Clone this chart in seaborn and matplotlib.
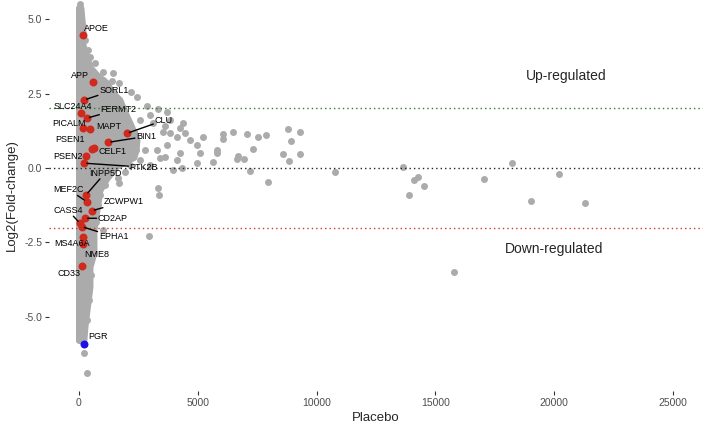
import numpy as np
import pandas as pd
import seaborn as sns
import matplotlib.pyplot as plt

# envelope of the dense grey cloud (y level, right extent in Placebo units)
cloud_y = [5.37, 4.63, 4.13, 3.72, 3.39, 3.12, 2.85, 2.55, 2.28, 1.95, 1.51, 1.20,
           0.94, 0.60, 0.37, 0.07, -0.34, -0.74, -1.41, -2.08, -2.85, -3.32,
           -3.99, -4.77, -5.34, -5.77]
cloud_xmax = [63, 147, 147, 316, 442, 737, 1157, 1368, 1705, 1873, 2125, 2300,
              2420, 2380, 2294, 1578, 1157, 863, 737, 610, 610, 442,
              442, 316, 231, 189]

# scattered grey genes outside the dense core
gray_x = [42, 181, 463, 673, 1024, 1444, 1374, 1010, 1680, 2200, 2428, 2848, 3338,
          3690, 3830, 4251, 2988, 3128, 4390, 3548, 4111, 4461, 4672, 5232, 5794,
          5794, 6073, 6048, 6495, 7083, 7547, 7856, 7310, 6705, 6636, 6944, 7197,
          7941, 8783, 9301, 8923, 8573, 8838, 9301, 10774, 13623, 14113, 14281,
          14520, 13876, 17033, 18237, 20189, 19024, 21283, 15783, 4953, 5093, 4251,
          4111, 4953, 5654, 4322, 3969, 3690, 3620, 3270, 2960, 3338, 3380, 1697,
          1024, 223, 350,
          2567, 3620, 3830, 2778, 3409, 2567, 2988, 2146, 1936, 1641, 1100, 900,
          800, 700, 610, 500, 420, 330, 380, 250]
gray_y = [5.50, 4.77, 3.73, 3.53, 3.23, 3.20, 2.93, 2.95, 2.85, 2.55, 2.37, 2.08, 1.98,
          1.89, 1.61, 1.33, 1.78, 1.50, 1.50, 1.22, 1.05, 1.16, 0.94, 1.05, 0.60,
          0.49, 1.14, 0.97, 1.20, 1.15, 1.03, 1.10, 0.64, 0.41, 0.31, 0.31, -0.09,
          -0.47, 1.31, 1.20, 0.90, 0.46, 0.22, 0.48, -0.12, 0.04, -0.40, -0.29,
          -0.59, -0.92, -0.36, 0.16, -0.20, -1.11, -1.19, -3.49, 0.77, 0.49, 0.49,
          0.27, 0.16, 0.21, -0.01, -0.07, 0.77, 0.38, 0.60, -2.30, -0.68, -0.91, -0.49,
          -2.08, -6.22, -6.87,
          1.61, 1.41, 1.17, 0.60, 0.34, 0.27, 0.10, 0.10, -0.13, -0.34, -0.57, -0.91,
          -1.24, -1.81, -2.75, -3.59, -4.43, -5.10, 3.96, 4.30]

# highlighted Alzheimer genes
genes = ["APOE", "APP", "SORL1", "SLC24A4", "FERMT2", "PICALM", "MAPT", "CLU",
         "BIN1", "PSEN1", "CELF1", "PSEN2", "PTK2B", "INPP5D", "MEF2C", "ZCWPW1",
         "CD2AP", "CASS4", "EPHA1", "MS4A6A", "NME8", "CD33"]
gene_x = [181, 602, 210, 72, 324, 181, 463, 2008, 1233, 535, 631, 295, 210, 295,
          324, 535, 252, 42, 113, 181, 181, 113]
gene_y = [4.46, 2.88, 2.28, 1.84, 1.67, 1.33, 1.30, 1.16, 0.86, 0.63, 0.66, 0.40,
          0.16, -0.91, -1.13, -1.44, -1.69, -1.86, -1.97, -2.31, -2.55, -3.29]

pgr_x = [223]
pgr_y = [-5.92]

# label offsets in pixels (dx, dy) and which ones get a connector
offsets = {"APOE": (13, 7), "APP": (-13, 7), "SORL1": (30, 10), "SLC24A4": (-8, 7),
           "FERMT2": (32, 9), "PICALM": (-14, 5), "MAPT": (19, 3), "CLU": (37, 13),
           "BIN1": (38, 6), "PSEN1": (-22, 10), "CELF1": (19, -3), "PSEN2": (-18, 0),
           "PTK2B": (60, -4), "INPP5D": (19, 22), "MEF2C": (-18, 12),
           "ZCWPW1": (32, 9), "CD2AP": (28, 0), "CASS4": (-12, 13),
           "EPHA1": (32, -10), "MS4A6A": (-11, -7), "NME8": (13, -11),
           "CD33": (-13, -8)}
connected = {"SORL1", "FERMT2", "CLU", "BIN1", "PTK2B", "INPP5D", "MEF2C",
             "ZCWPW1", "CD2AP", "CASS4", "EPHA1"}

grey = "#ABABAB"
red = "#CF2A1E"

sns.set_style("white")
plt.rcParams["font.family"] = ["Liberation Sans", "DejaVu Sans"]

fig = plt.figure(figsize=(7.06, 4.26), dpi=100)
ax = fig.add_axes([0.0698, 0.0822, 0.9255, 0.9178])

# dense core
ax.fill_betweenx(cloud_y, 0, cloud_xmax, color=grey, lw=5, joinstyle="round", zorder=1)
edge = pd.DataFrame({"x": cloud_xmax + [0] * len(cloud_y), "y": cloud_y + cloud_y})
sns.scatterplot(data=edge, x="x", y="y", color=grey, s=25, linewidth=0, ax=ax, zorder=2)

others = pd.DataFrame({"x": gray_x, "y": gray_y})
sns.scatterplot(data=others, x="x", y="y", color=grey, s=25, linewidth=0, ax=ax, zorder=2)

for yv, col in [(2, "#2E7D2E"), (0, "#222222"), (-2, "#D03A2A")]:
    ax.axhline(yv, color=col, lw=1.0, ls=(0, (1, 2.2)), zorder=3)

hl = pd.DataFrame({"gene": genes, "x": gene_x, "y": gene_y})
sns.scatterplot(data=hl, x="x", y="y", color=red, s=33, linewidth=0, ax=ax, zorder=4)
pg = pd.DataFrame({"x": pgr_x, "y": pgr_y})
sns.scatterplot(data=pg, x="x", y="y", color="#1F10E6", s=33, linewidth=0, ax=ax, zorder=4)

box = dict(boxstyle="square,pad=0.15", fc="none", ec="none")
for g, x, y in zip(genes, gene_x, gene_y):
    dx, dy = offsets[g]
    arrow = dict(arrowstyle="-", color="black", lw=1.0, shrinkA=0, shrinkB=2) if g in connected else None
    ax.annotate(g, (x, y), xytext=(dx, dy), textcoords="offset pixels",
                ha="center", va="center", fontsize=6.5, color="black",
                bbox=box, arrowprops=arrow, zorder=5)
ax.annotate("PGR", (pgr_x[0], pgr_y[0]), xytext=(14, 8), textcoords="offset pixels",
            ha="center", va="center", fontsize=6.5, color="black", zorder=5)

ax.text(20500, 3.09, "Up-regulated", ha="center", va="center", fontsize=10)
ax.text(20000, -2.72, "Down-regulated", ha="center", va="center", fontsize=10)

ax.set_xlim(-1250, 26250)
ax.set_ylim(-7.49, 5.64)
ax.set_xticks([0, 5000, 10000, 15000, 20000, 25000])
ax.set_yticks([-5, -2.5, 0, 2.5, 5])
ax.set_yticklabels(["-5.0", "-2.5", "0.0", "2.5", "5.0"])
for s in ax.spines.values():
    s.set_visible(False)
ax.tick_params(axis="both", length=3, width=0.8, color="#333333",
               labelcolor="#4D4D4D", labelsize=7.5, pad=2, left=True, bottom=True)
ax.set_xlabel("Placebo", fontsize=9.5, labelpad=3)
ax.set_ylabel("Log2(Fold-change)", fontsize=9.5, labelpad=5)

fig.savefig("out.png", dpi=100)
